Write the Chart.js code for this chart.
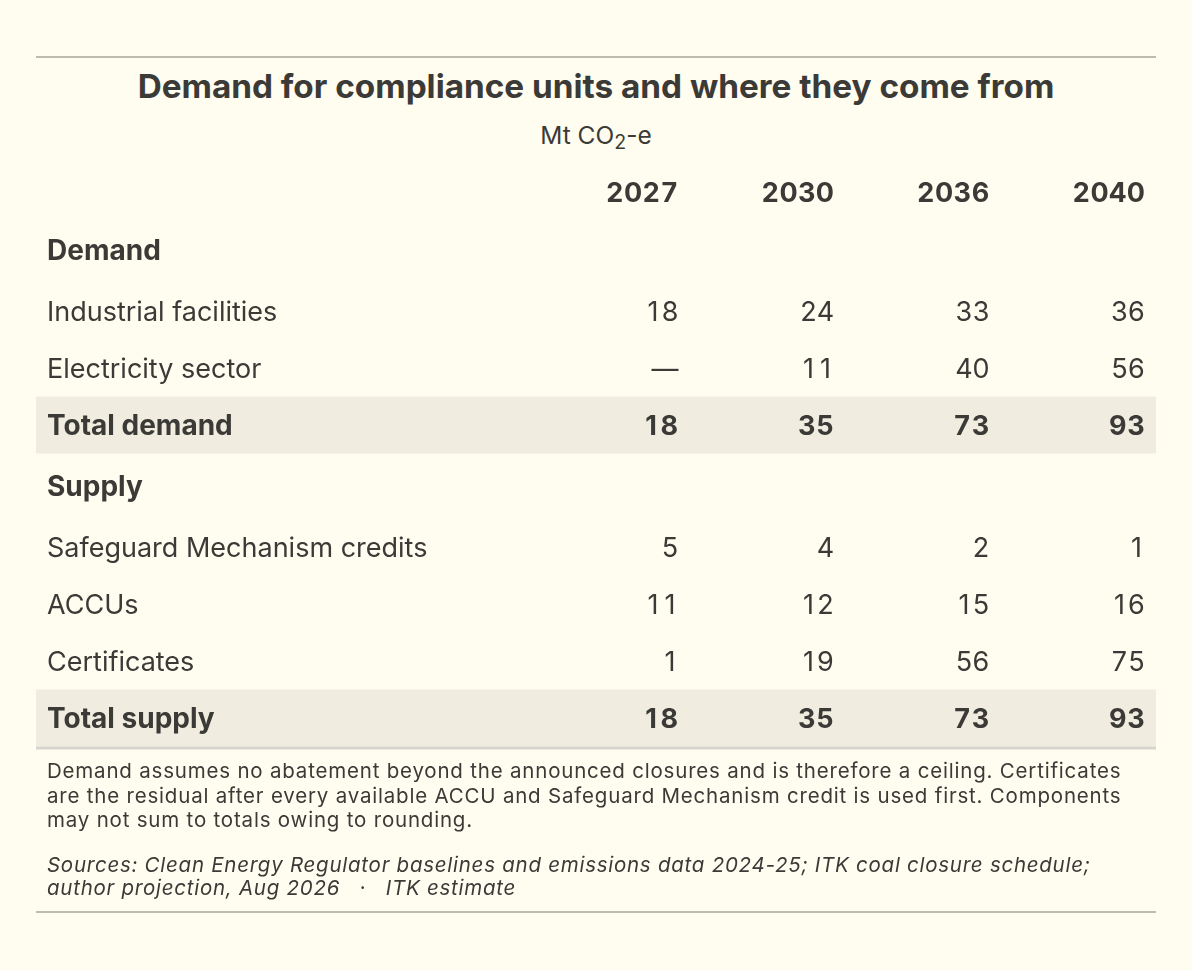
<!DOCTYPE html>
<html>
<head>
<meta charset="utf-8">
<script src="https://cdn.jsdelivr.net/npm/chart.js@4.4.1/dist/chart.umd.min.js"></script>
<style>
html,body{margin:0;padding:0;background:#fffdf0;}
body{width:1192px;height:970px;position:relative;overflow:hidden;font-family:Inter,"Noto Sans",sans-serif;color:#3b3a37;}
#rtop{position:absolute;left:36px;top:56px;width:1120px;height:0;border-top:2px solid #bdbbaf;}
#title{position:absolute;left:36px;width:1120px;top:66.2px;text-align:center;font-weight:700;font-size:33.3px;line-height:40px;white-space:nowrap;}
#sub{position:absolute;left:36px;width:1120px;top:120.1px;text-align:center;font-size:24.5px;line-height:30px;white-space:nowrap;}
#sub sub{font-size:0.8em;line-height:0;vertical-align:-5px;}
#wrap{position:absolute;left:0;top:0;width:1192px;height:970px;}
#notes{position:absolute;left:47px;width:1120px;top:759.3px;font-size:20.5px;letter-spacing:0.8px;line-height:24.5px;white-space:nowrap;}
#src{position:absolute;left:47px;width:1120px;top:852.8px;font-size:20.5px;letter-spacing:0.74px;line-height:23.5px;font-style:italic;white-space:nowrap;}
#rbot{position:absolute;left:36px;top:911px;width:1120px;height:0;border-top:2px solid #bdbbaf;}
</style>
</head>
<body>
<div id="rtop"></div>
<div id="title">Demand for compliance units and where they come from</div>
<div id="sub">Mt CO<sub>2</sub>-e</div>
<div id="wrap"><canvas id="c" width="1192" height="970"></canvas></div>
<div id="notes">Demand assumes no abatement beyond the announced closures and is therefore a ceiling. Certificates<br>are the residual after every available ACCU and Safeguard Mechanism credit is used first. Components<br>may not sum to totals owing to rounding.</div>
<div id="src">Sources: Clean Energy Regulator baselines and emissions data 2024-25; ITK coal closure schedule;<br>author projection, Aug 2026 &nbsp;&nbsp;·&nbsp;&nbsp; ITK estimate</div>
<div id="rbot"></div>
<script>
// ---- data ----
const years = ['2027', '2030', '2036', '2040'];
const rowLabels = ['Demand', 'Industrial facilities', 'Electricity sector', 'Total demand',
                   'Supply', 'Safeguard Mechanism credits', 'ACCUs', 'Certificates', 'Total supply'];
const rowKinds = ['section', 'item', 'item', 'total', 'section', 'item', 'item', 'item', 'total'];
const industrialFacilities = [18, 24, 33, 36];
const electricitySector = [null, 11, 40, 56];
const totalDemand = [18, 35, 73, 93];
const safeguardCredits = [5, 4, 2, 1];
const accus = [11, 12, 15, 16];
const certificates = [1, 19, 56, 75];
const totalSupply = [18, 35, 73, 93];
const rowValues = [null, industrialFacilities, electricitySector, totalDemand,
                   null, safeguardCredits, accus, certificates, totalSupply];

// ---- layout (not data) ----
const rowHeights = [51, 65, 57, 57, 57, 65, 57, 57, 57, 57]; // header row + 9 rows
const colWidths = [498, 155.5, 155.5, 155.5, 155.5];
const cellPad = 11;
const FONT = 'Inter, "Noto Sans", sans-serif';
const TEXT = '#3b3a37';
const BAND = '#f0ede0';
const RULE = '#d5d4cd';

const rowStart = []; let acc = 0;
rowHeights.forEach(h => { rowStart.push(acc); acc += h; });
const totalH = acc;
const colStart = []; acc = 0;
colWidths.forEach(w => { colStart.push(acc); acc += w; });
const totalW = acc;

// right-aligned text with tabular (fixed-width) digits
function fillTabular(ctx, str, rightX, y) {
  const slot = ctx.measureText('0').width;
  let x = rightX;
  const prevAlign = ctx.textAlign;
  ctx.textAlign = 'center';
  for (let k = str.length - 1; k >= 0; k--) {
    const ch = str[k];
    if (/[0-9]/.test(ch)) {
      ctx.fillText(ch, x - slot / 2, y);
      x -= slot;
    } else {
      const w = ctx.measureText(ch).width;
      ctx.fillText(ch, x - w / 2, y);
      x -= w;
    }
  }
  ctx.textAlign = prevAlign;
}

const tablePlugin = {
  id: 'tableCells',
  afterDraw(chart) {
    const ctx = chart.ctx;
    const xs = chart.scales.x, ys = chart.scales.y;
    const left = xs.getPixelForValue(0), right = xs.getPixelForValue(totalW);
    const rowTop = i => ys.getPixelForValue(rowStart[i]);
    const rowBot = i => ys.getPixelForValue(rowStart[i] + rowHeights[i]);
    const rowMid = i => ys.getPixelForValue(rowStart[i] + rowHeights[i] / 2);
    const colRight = j => xs.getPixelForValue(colStart[j] + colWidths[j]) - cellPad;
    ctx.save();
    rowKinds.forEach((k, r) => {
      const i = r + 1;
      if (k === 'total') {
        ctx.fillStyle = BAND;
        ctx.fillRect(left, rowTop(i), right - left, rowBot(i) - rowTop(i));
      }
    });
    const last = rowHeights.length - 1;
    ctx.fillStyle = RULE;
    ctx.fillRect(left, rowBot(last), right - left, 3);

    ctx.fillStyle = TEXT;
    ctx.textBaseline = 'alphabetic';
    const hs = 27;
    ctx.font = '700 ' + hs + 'px ' + FONT;
    years.forEach((yr, j) => fillTabular(ctx, yr, colRight(j + 1), rowMid(0) + 0.36 * hs));
    rowLabels.forEach((lab, r) => {
      const i = r + 1;
      const kind = rowKinds[r];
      const bold = kind !== 'item';
      const fs = bold ? 28 : 27;
      const weight = bold ? '700 ' : '400 ';
      ctx.font = weight + fs + 'px ' + FONT;
      const base = rowMid(i) + 0.36 * fs;
      ctx.textAlign = 'left';
      ctx.fillText(lab, left + cellPad, base);
      const vals = rowValues[r];
      if (vals) {
        ctx.font = weight + '27px ' + FONT;
        vals.forEach((v, j) => fillTabular(ctx, v === null ? '\u2014' : String(v), colRight(j + 1), base));
      }
    });
    ctx.restore();
  }
};

new Chart(document.getElementById('c'), {
  type: 'scatter',
  data: { datasets: [] },
  options: {
    responsive: false,
    animation: false,
    events: [],
    layout: { padding: { left: 36, right: 36, top: 166.5, bottom: 970 - 746.5 } },
    plugins: { legend: { display: false }, title: { display: false }, tooltip: { enabled: false } },
    scales: {
      x: { type: 'linear', min: 0, max: totalW, display: false },
      y: { type: 'linear', min: 0, max: totalH, reverse: true, display: false }
    }
  },
  plugins: [tablePlugin]
});
</script>
</body>
</html>
